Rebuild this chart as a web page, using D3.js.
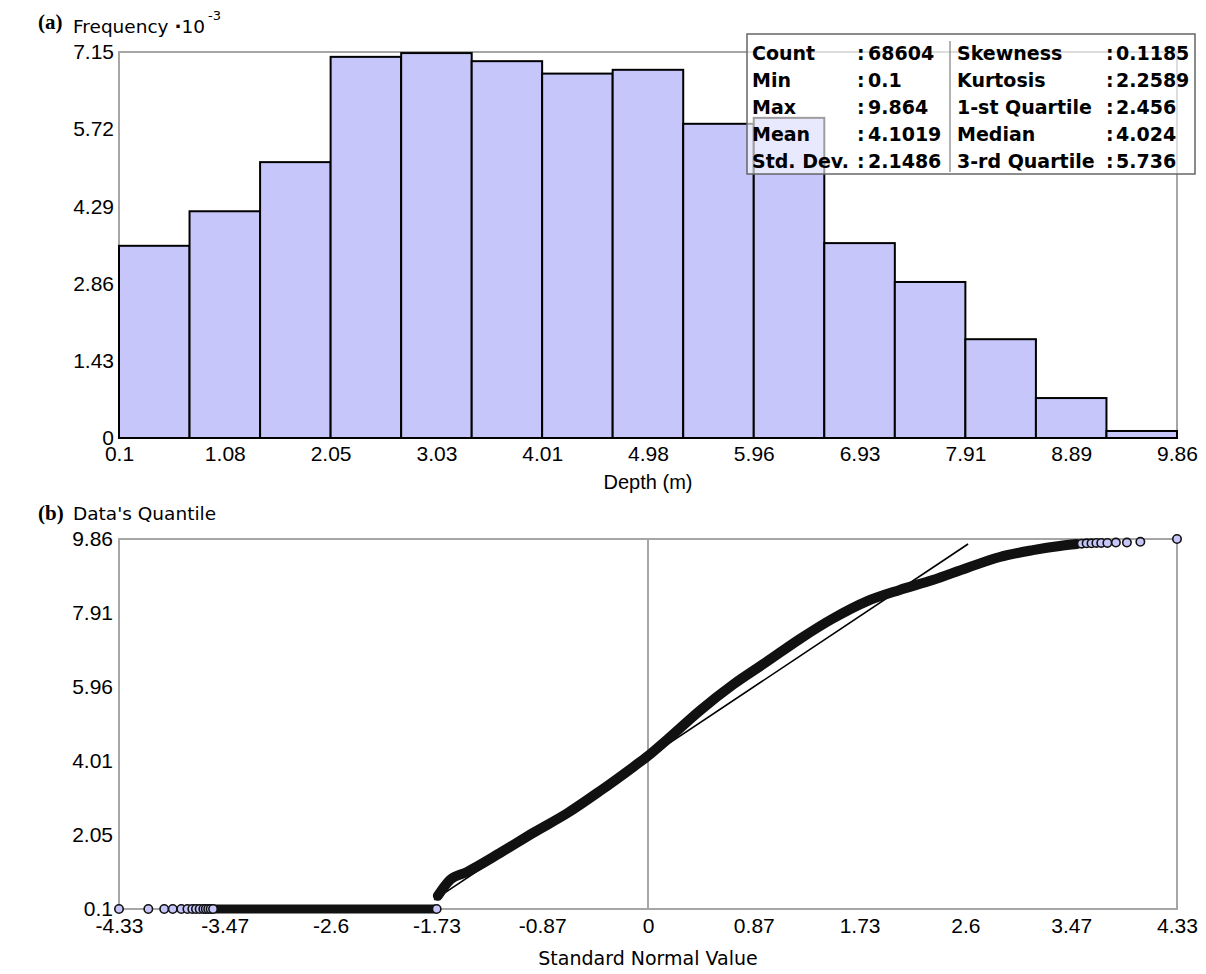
<!DOCTYPE html>
<html>
<head>
<meta charset="utf-8">
<script src="https://cdn.jsdelivr.net/npm/d3@7/dist/d3.min.js"></script>
<style>
  body { margin: 0; background: #fff; }
  svg { display: block; }
</style>
</head>
<body>
<svg id="chart" width="1206" height="974"></svg>
<script>
// histogram (a): 15 bins between min and max, counts in thousands
var binEdges = [0.1, 0.751, 1.402, 2.053, 2.704, 3.355, 4.005, 4.656, 5.307, 5.958, 6.609, 7.26, 7.911, 8.562, 9.213, 9.864];
var binCounts = [3.56, 4.20, 5.11, 7.06, 7.13, 6.98, 6.75, 6.82, 5.82, 5.93, 3.61, 2.89, 1.83, 0.74, 0.13];
var histYTicks = [0, 1.43, 2.86, 4.29, 5.72, 7.15];
var histXTicks = [0.1, 1.0764, 2.0528, 3.0292, 4.0056, 4.982, 5.9584, 6.9348, 7.9112, 8.8876, 9.864];
var histXLabels = ["0.1", "1.08", "2.05", "3.03", "4.01", "4.98", "5.96", "6.93", "7.91", "8.89", "9.86"];

// stats table
var statsLeft = [["Count", "68604"], ["Min", "0.1"], ["Max", "9.864"], ["Mean", "4.1019"], ["Std. Dev.", "2.1486"]];
var statsRight = [["Skewness", "0.1185"], ["Kurtosis", "2.2589"], ["1-st Quartile", "2.456"], ["Median", "4.024"], ["3-rd Quartile", "5.736"]];
var mean = 4.1019, stdDev = 2.1486;

// normal QQ plot (b)
var qqXTicks = [-4.33, -3.464, -2.598, -1.732, -0.866, 0, 0.866, 1.732, 2.598, 3.464, 4.33];
var qqXLabels = ["-4.33", "-3.47", "-2.6", "-1.73", "-0.87", "0", "0.87", "1.73", "2.6", "3.47", "4.33"];
var qqYTicks = [0.1, 2.0528, 4.0056, 5.9584, 7.9112, 9.864];
var qqYLabels = ["0.1", "2.05", "4.01", "5.96", "7.91", "9.86"];
// sparse low tail (all at the minimum 0.1)
var lowTailZ = [-4.33, -4.09, -3.96, -3.89, -3.82, -3.77, -3.73, -3.70, -3.67, -3.64, -3.62, -3.60, -3.58, -3.56, -1.73];
var lowTailVal = [0.1, 0.1, 0.1, 0.1, 0.1, 0.1, 0.1, 0.1, 0.1, 0.1, 0.1, 0.1, 0.1, 0.1, 0.1];
// dense stretch at the minimum
var lowBandZ = [-3.56, -1.75];
var lowBandVal = [0.1, 0.1];
// dense body of the quantile curve
var mainZ = [-1.72, -1.62, -1.48, -1.21, -0.94, -0.66, -0.39, -0.12, 0, 0.16, 0.43, 0.70, 0.97, 1.24, 1.51, 1.79, 2.06, 2.33, 2.61, 2.88, 3.15, 3.37, 3.51];
var mainVal = [0.45, 0.87, 1.08, 1.58, 2.11, 2.63, 3.22, 3.85, 4.14, 4.58, 5.35, 6.03, 6.62, 7.22, 7.76, 8.22, 8.52, 8.78, 9.10, 9.39, 9.57, 9.68, 9.73];
// sparse high tail
var hiTailZ = [3.55, 3.59, 3.63, 3.67, 3.71, 3.76, 3.83, 3.92, 4.03, 4.33];
var hiTailVal = [9.74, 9.75, 9.75, 9.76, 9.76, 9.76, 9.77, 9.77, 9.79, 9.864];
var fitZ = [-1.75, 2.62];

var svg = d3.select('#chart');
var sans = "'Liberation Sans', Arial, sans-serif";
var verd = "'DejaVu Sans', Verdana, sans-serif";
var frameColor = '#a6a6a6';
var barFill = '#c6c6fa';

// ---------- (a) histogram ----------
var hx = d3.scaleLinear().domain([0.1, 9.864]).range([119, 1177]);
var hy = d3.scaleLinear().domain([0, 7.15]).range([438, 52]);

svg.append('text').attr('x', 38).attr('y', 29)
   .style('font', "bold 21px 'Liberation Serif', 'Times New Roman', serif").text('(a)');
var ft = svg.append('text').attr('x', 73).attr('y', 33).style('font-family', verd).style('font-size', '18.5px');
ft.append('tspan').text('Frequency ');
ft.append('tspan').style('font-weight', 'bold').text('\u00b7');
ft.append('tspan').text('10');
ft.append('tspan').attr('dy', -13).attr('dx', 3).style('font-size', '13px').text('-3');

// frame
svg.append('path')
   .attr('d', 'M' + hx(0.1) + ',' + hy(0) + 'V' + hy(7.15) + 'H' + hx(9.864) + 'V' + hy(0))
   .attr('fill', 'none').attr('stroke', frameColor).attr('stroke-width', 2);

var bins = binCounts.map(function(c, i) { return {x0: binEdges[i], x1: binEdges[i + 1], v: c}; });
svg.append('g').selectAll('rect').data(bins).enter().append('rect')
   .attr('x', function(d) { return hx(d.x0); })
   .attr('y', function(d) { return hy(d.v); })
   .attr('width', function(d) { return hx(d.x1) - hx(d.x0); })
   .attr('height', function(d) { return hy(0) - hy(d.v); })
   .attr('fill', barFill).attr('stroke', '#000').attr('stroke-width', 2);

var hyAxis = svg.append('g').attr('transform', 'translate(' + hx(0.1) + ',0)')
   .call(d3.axisLeft(hy).tickValues(histYTicks).tickSize(0).tickPadding(5).tickFormat(d3.format('')));
var hxAxis = svg.append('g').attr('transform', 'translate(0,' + hy(0) + ')')
   .call(d3.axisBottom(hx).tickValues(histXTicks).tickSize(0).tickPadding(8)
     .tickFormat(function(d, i) { return histXLabels[i]; }));
[hyAxis, hxAxis].forEach(function(a) {
  a.select('.domain').remove();
  a.selectAll('text').style('font-family', sans).style('font-size', '21px').attr('fill', '#000');
});

svg.append('text').attr('x', 648).attr('y', 489).attr('text-anchor', 'middle')
   .style('font-family', sans).style('font-size', '20px').text('Depth (m)');

// stats box (semi transparent, like the original)
var box = svg.append('g');
box.append('rect').attr('x', 747).attr('y', 34).attr('width', 448).attr('height', 140)
   .attr('fill', '#fff').attr('fill-opacity', 0.62).attr('stroke', '#666').attr('stroke-width', 1.5);
box.append('line').attr('x1', 950).attr('x2', 950).attr('y1', 41).attr('y2', 172)
   .attr('stroke', '#999').attr('stroke-width', 1.5);
function statCol(rows, xl, xc, xv) {
  rows.forEach(function(r, i) {
    var y = 53 + i * 27;
    var g = box.append('g').style('font', 'bold 19px ' + verd).attr('fill', '#000');
    g.append('text').attr('x', xl).attr('y', y).attr('dy', '0.35em').text(r[0]);
    g.append('text').attr('x', xc).attr('y', y).attr('dy', '0.35em').text(':');
    g.append('text').attr('x', xv).attr('y', y).attr('dy', '0.35em').text(r[1]);
  });
}
statCol(statsLeft, 752, 857, 868);
statCol(statsRight, 957, 1106, 1116);

// ---------- (b) normal QQ plot ----------
var qx = d3.scaleLinear().domain([-4.33, 4.33]).range([119, 1177]);
var qy = d3.scaleLinear().domain([0.1, 9.864]).range([909, 539]);

svg.append('text').attr('x', 38).attr('y', 520)
   .style('font', "bold 21px 'Liberation Serif', 'Times New Roman', serif").text('(b)');
svg.append('text').attr('x', 73).attr('y', 520).style('font-family', verd).style('font-size', '18.5px')
   .text("Data's Quantile");

svg.append('path')
   .attr('d', 'M' + qx(-4.33) + ',' + qy(0.1) + 'V' + qy(9.864) + 'H' + qx(4.33) + 'V' + qy(0.1) + 'Z')
   .attr('fill', 'none').attr('stroke', frameColor).attr('stroke-width', 2);
svg.append('line').attr('x1', qx(0)).attr('x2', qx(0)).attr('y1', qy(0.1)).attr('y2', qy(9.864))
   .attr('stroke', frameColor).attr('stroke-width', 2);

var qyAxis = svg.append('g').attr('transform', 'translate(' + qx(-4.33) + ',0)')
   .call(d3.axisLeft(qy).tickValues(qqYTicks).tickSize(0).tickPadding(6)
     .tickFormat(function(d, i) { return qqYLabels[i]; }));
var qxAxis = svg.append('g').attr('transform', 'translate(0,' + qy(0.1) + ')')
   .call(d3.axisBottom(qx).tickValues(qqXTicks).tickSize(0).tickPadding(9)
     .tickFormat(function(d, i) { return qqXLabels[i]; }));
[qyAxis, qxAxis].forEach(function(a) {
  a.select('.domain').remove();
  a.selectAll('text').style('font-family', sans).style('font-size', '21px').attr('fill', '#000');
});

svg.append('text').attr('x', 648).attr('y', 965).attr('text-anchor', 'middle')
   .style('font-family', verd).style('font-size', '19px').text('Standard Normal Value');

// reference normal line
svg.append('line')
   .attr('x1', qx(fitZ[0])).attr('y1', qy(mean + stdDev * fitZ[0]))
   .attr('x2', qx(fitZ[1])).attr('y2', qy(mean + stdDev * fitZ[1]))
   .attr('stroke', '#000').attr('stroke-width', 1.6);

// dense parts of the scatter appear as a thick dark band
var band = d3.line().x(function(d) { return qx(d[0]); }).y(function(d) { return qy(d[1]); })
   .curve(d3.curveMonotoneX);
svg.append('path').datum(d3.zip(lowBandZ, lowBandVal)).attr('d', band)
   .attr('fill', 'none').attr('stroke', '#111').attr('stroke-width', 9).attr('stroke-linecap', 'round');
svg.append('path').datum(d3.zip(mainZ, mainVal)).attr('d', band)
   .attr('fill', 'none').attr('stroke', '#111').attr('stroke-width', 10).attr('stroke-linecap', 'round');

// sparse tail points
var tails = d3.zip(lowTailZ, lowTailVal).concat(d3.zip(hiTailZ, hiTailVal));
svg.append('g').selectAll('circle').data(tails).enter().append('circle')
   .attr('cx', function(d) { return qx(d[0]); })
   .attr('cy', function(d) { return qy(d[1]); })
   .attr('r', 4.2)
   .attr('fill', barFill).attr('stroke', '#111').attr('stroke-width', 1.6);
</script>
</body>
</html>
